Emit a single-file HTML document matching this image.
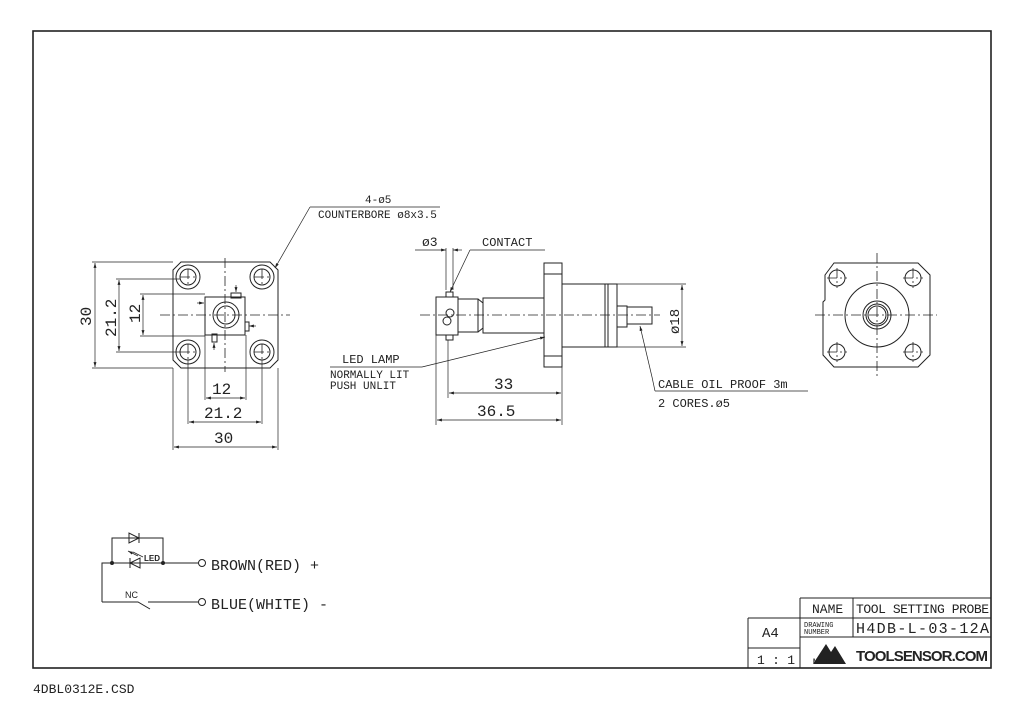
<!DOCTYPE html>
<html><head><meta charset="utf-8"><style>
html,body{margin:0;padding:0;background:#fff;}
svg{display:block;}
text{font-family:"Liberation Sans",sans-serif;fill:#222;}
.m{font-family:"Liberation Mono",monospace;}
</style></head><body>
<svg width="1024" height="719" viewBox="0 0 1024 719" xmlns="http://www.w3.org/2000/svg">
<defs>
<marker id="a" viewBox="0 0 10 10" refX="10" refY="5" markerWidth="7" markerHeight="7" orient="auto-start-reverse"><path d="M0,2 L10,5 L0,8 z" fill="#222"/></marker>
</defs>
<g fill="none" stroke="#222" stroke-width="1">
<rect x="33" y="31" width="958" height="637" stroke-width="1.6"/>

<!-- LEFT VIEW -->
<path d="M181,262 L270,262 L278,270 L278,360 L270,368 L181,368 L173,360 L173,270 Z"/>
<g>
<circle cx="188" cy="277" r="12"/><circle cx="188" cy="277" r="8"/>
<circle cx="262" cy="277" r="12"/><circle cx="262" cy="277" r="8"/>
<circle cx="188" cy="352" r="12"/><circle cx="188" cy="352" r="8"/>
<circle cx="262" cy="352" r="12"/><circle cx="262" cy="352" r="8"/>
</g>
<rect x="205" y="297" width="40" height="38"/>
<circle cx="226" cy="315" r="13"/><circle cx="226" cy="315" r="9"/>
<rect x="231" y="293" width="10" height="5"/>
<rect x="245" y="322" width="4" height="9"/>
<rect x="212" y="334" width="5" height="8"/>
<g stroke-dasharray="10,3,2,3" stroke-width="0.8">
<line x1="160" y1="315" x2="290" y2="315"/>
<line x1="225" y1="258" x2="225" y2="372"/>
<line x1="180" y1="277" x2="196" y2="277"/><line x1="188" y1="269" x2="188" y2="285"/>
<line x1="254" y1="277" x2="270" y2="277"/><line x1="262" y1="269" x2="262" y2="285"/>
<line x1="180" y1="352" x2="196" y2="352"/><line x1="188" y1="344" x2="188" y2="360"/>
<line x1="254" y1="352" x2="270" y2="352"/><line x1="262" y1="344" x2="262" y2="360"/>
</g>
<g stroke-width="0.7">
<line x1="92" y1="262" x2="173" y2="262"/><line x1="92" y1="368" x2="173" y2="368"/>
<line x1="116" y1="279" x2="180" y2="279"/><line x1="116" y1="352" x2="180" y2="352"/>
<line x1="140" y1="294" x2="205" y2="294"/><line x1="140" y1="336" x2="205" y2="336"/>
<line x1="205" y1="335" x2="205" y2="400"/><line x1="246" y1="335" x2="246" y2="400"/>
<line x1="188" y1="360" x2="188" y2="424"/><line x1="262" y1="360" x2="262" y2="424"/>
<line x1="173" y1="368" x2="173" y2="450"/><line x1="278" y1="368" x2="278" y2="450"/>
<line x1="95" y1="263" x2="95" y2="367" marker-start="url(#a)" marker-end="url(#a)"/>
<line x1="119" y1="280" x2="119" y2="351" marker-start="url(#a)" marker-end="url(#a)"/>
<line x1="143" y1="295" x2="143" y2="335" marker-start="url(#a)" marker-end="url(#a)"/>
<line x1="206" y1="398" x2="245" y2="398" marker-start="url(#a)" marker-end="url(#a)"/>
<line x1="189" y1="422" x2="261" y2="422" marker-start="url(#a)" marker-end="url(#a)"/>
<line x1="174" y1="447" x2="277" y2="447" marker-start="url(#a)" marker-end="url(#a)"/>
<line x1="197" y1="303" x2="204" y2="303" marker-end="url(#a)"/>
<line x1="256" y1="326" x2="249" y2="326" marker-end="url(#a)"/>
<line x1="236" y1="285" x2="236" y2="292" marker-end="url(#a)"/>
<line x1="214" y1="350" x2="214" y2="343" marker-end="url(#a)"/>
<line x1="310" y1="207" x2="440" y2="207"/>
<line x1="310" y1="207" x2="275" y2="268" marker-end="url(#a)"/>
</g>

<!-- SIDE VIEW -->
<rect x="436" y="297" width="22" height="38"/>
<rect x="446" y="292" width="7" height="5"/><rect x="446" y="335" width="7" height="5"/>
<circle cx="450" cy="313" r="4"/><circle cx="447" cy="321" r="4"/>
<rect x="458" y="299" width="20" height="33"/>
<path d="M478,299 L483,303 L483,328 L478,332"/>
<rect x="483" y="298" width="61" height="35"/>
<rect x="544" y="263" width="18" height="104"/>
<line x1="544" y1="274" x2="562" y2="274"/><line x1="544" y1="356" x2="562" y2="356"/>
<rect x="562" y="284" width="43" height="63"/>
<rect x="605" y="284" width="12" height="63"/>
<line x1="608" y1="284" x2="608" y2="347"/>
<rect x="617" y="306" width="10" height="21"/>
<rect x="627" y="307" width="25" height="17"/>
<line x1="420" y1="315" x2="660" y2="315" stroke-dasharray="10,3,2,3" stroke-width="0.8"/>
<g stroke-width="0.7">
<line x1="446" y1="290" x2="446" y2="248"/><line x1="453" y1="290" x2="453" y2="248"/>
<line x1="415" y1="250" x2="446" y2="250" marker-end="url(#a)"/>
<line x1="462" y1="250" x2="453" y2="250" marker-end="url(#a)"/>
<line x1="470" y1="250" x2="545" y2="250"/>
<line x1="470" y1="250" x2="450" y2="292" marker-end="url(#a)"/>
<line x1="330" y1="367" x2="422" y2="367"/>
<line x1="422" y1="367" x2="545" y2="337" marker-end="url(#a)"/>
<line x1="436" y1="335" x2="436" y2="425"/><line x1="448" y1="340" x2="448" y2="398"/>
<line x1="562" y1="367" x2="562" y2="425"/>
<line x1="449" y1="393" x2="561" y2="393" marker-start="url(#a)" marker-end="url(#a)"/>
<line x1="437" y1="420" x2="561" y2="420" marker-start="url(#a)" marker-end="url(#a)"/>
<line x1="605" y1="284" x2="686" y2="284"/><line x1="605" y1="347" x2="686" y2="347"/>
<line x1="682" y1="285" x2="682" y2="346" marker-start="url(#a)" marker-end="url(#a)"/>
<line x1="655" y1="391" x2="808" y2="391"/>
<line x1="655" y1="391" x2="652" y2="377"/>
<line x1="652" y1="377" x2="640" y2="326" marker-end="url(#a)"/>
</g>

<!-- RIGHT VIEW -->
<path d="M834,263 L918,263 L930,275 L930,355 L918,367 L834,367 L823,355 L823,302 L825,300 L825,275 Z"/>
<circle cx="877" cy="315" r="32"/>
<circle cx="877" cy="315" r="14"/><circle cx="877" cy="315" r="11"/><circle cx="877" cy="315" r="9"/>
<circle cx="837" cy="278" r="8"/><circle cx="913" cy="278" r="8"/>
<circle cx="837" cy="352" r="8"/><circle cx="913" cy="352" r="8"/>
<g stroke-dasharray="10,3,2,3" stroke-width="0.8">
<line x1="815" y1="315" x2="937" y2="315"/><line x1="877" y1="253" x2="877" y2="376"/>
<line x1="827" y1="278" x2="847" y2="278"/><line x1="837" y1="268" x2="837" y2="288"/>
<line x1="903" y1="278" x2="923" y2="278"/><line x1="913" y1="268" x2="913" y2="288"/>
<line x1="827" y1="352" x2="847" y2="352"/><line x1="837" y1="342" x2="837" y2="362"/>
<line x1="903" y1="352" x2="923" y2="352"/><line x1="913" y1="342" x2="913" y2="362"/>
</g>

<!-- CIRCUIT -->
<path d="M112,563 L112,538 L163,538 L163,563"/>
<path d="M102,602 L102,563 L198,563"/>
<path d="M102,602 L138,602 L150,609 M148,602 L198,602"/>
<circle cx="202" cy="563" r="3.5"/><circle cx="202" cy="602" r="3.5"/>
<path d="M129,533 L129,543 L139,538 Z M139,533 L139,543"/>
<path d="M140,558 L140,568 L130,563 Z M130,558 L130,568"/>
<line x1="138" y1="556" x2="128" y2="551" marker-end="url(#a)" stroke-width="0.7"/>
<line x1="143" y1="557" x2="133" y2="552" stroke-width="0.7"/>
</g>
<circle cx="112" cy="563" r="2" fill="#222"/><circle cx="163" cy="563" r="2" fill="#222"/>

<!-- TITLE BLOCK -->
<g fill="none" stroke="#222" stroke-width="1">
<line x1="800" y1="598" x2="991" y2="598"/>
<line x1="748" y1="618" x2="991" y2="618"/>
<line x1="800" y1="637" x2="991" y2="637"/>
<line x1="748" y1="648" x2="800" y2="648"/>
<line x1="748" y1="618" x2="748" y2="668"/>
<line x1="800" y1="598" x2="800" y2="668"/>
<line x1="853" y1="598" x2="853" y2="637"/>
</g>
<path d="M813,664 L826,644 L831,652 L835,646 L846,664 Z" fill="#222"/>

<g class="m" font-size="11">
<text x="365" y="203" class="m">4-ø5</text>
<text x="318" y="218" class="m">COUNTERBORE ø8x3.5</text>
<text x="422" y="246" class="m" font-size="13">ø3</text>
<text x="482" y="246" class="m" font-size="12">CONTACT</text>
<text x="342" y="363" class="m" font-size="12">LED LAMP</text>
<text x="330" y="378" class="m" font-size="11">NORMALLY LIT</text>
<text x="330" y="389" class="m" font-size="11">PUSH UNLIT</text>
<text x="658" y="388" class="m" font-size="12">CABLE OIL PROOF 3m</text>
<text x="658" y="407" class="m" font-size="12">2 CORES.ø5</text>
</g>
<g class="m" font-size="16">
<text x="212" y="394" class="m">12</text>
<text x="204" y="418" class="m">21.2</text>
<text x="214" y="443" class="m">30</text>
<text x="494" y="389" class="m">33</text>
<text x="477" y="416" class="m">36.5</text>
<text transform="translate(91,326) rotate(-90)" class="m">30</text>
<text transform="translate(116,337) rotate(-90)" class="m">21.2</text>
<text transform="translate(140,323) rotate(-90)" class="m">12</text>
<text transform="translate(679,334) rotate(-90)" class="m" font-size="14">ø18</text>
</g>
<text x="144" y="561" font-size="8" font-weight="bold">LED</text>
<text x="125" y="598" font-size="9">NC</text>
<text x="211" y="570" font-size="15" class="m">BROWN(RED) +</text>
<text x="211" y="609" font-size="15" class="m">BLUE(WHITE) -</text>
<text x="812" y="613" font-size="13" class="m">NAME</text>
<text x="856" y="613" font-size="13" class="m" textLength="133">TOOL SETTING PROBE</text>
<text x="804" y="627" font-size="7" class="m">DRAWING</text>
<text x="804" y="634" font-size="7" class="m">NUMBER</text>
<text x="856" y="633" font-size="15" class="m" textLength="133">H4DB-L-03-12A</text>
<text x="762" y="637" font-size="14" class="m">A4</text>
<text x="757" y="664" font-size="13" class="m" textLength="38">1 : 1</text>
<text x="813" y="663" font-size="6" fill="#fff" font-weight="bold">METROL</text>
<text x="856" y="661" font-size="15" font-weight="bold" textLength="132">TOOLSENSOR.COM</text>
<text x="33" y="693" font-size="13" class="m" fill="#444">4DBL0312E.CSD</text>
</svg>
</body></html>
